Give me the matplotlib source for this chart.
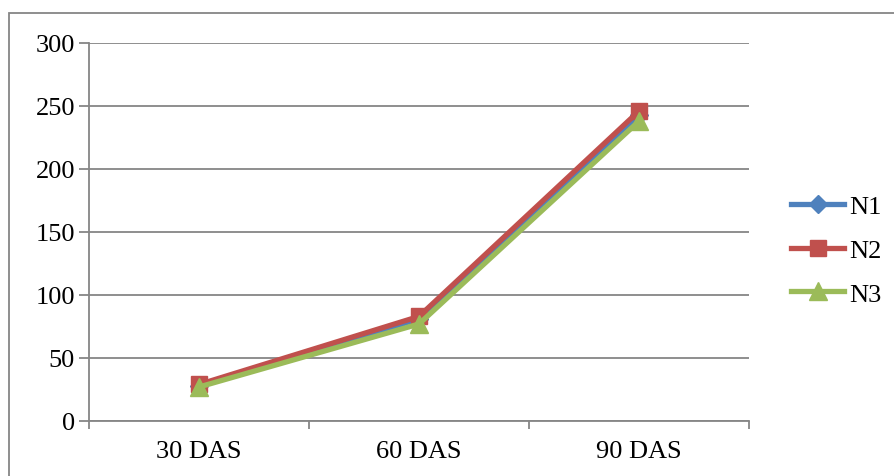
import matplotlib
matplotlib.use("Agg")
import matplotlib.pyplot as plt
from matplotlib.patches import Rectangle

categories = ["30 DAS", "60 DAS", "90 DAS"]
series_names = ["N1", "N2", "N3"]
n1 = [28, 81, 243]
n2 = [29, 83, 246]
n3 = [27, 77, 238]
y_ticks = [0, 50, 100, 150, 200, 250, 300]

colors = ["#4F81BD", "#C0504D", "#9BBB59"]
markers = ["D", "s", "^"]
msizes = [9, 12, 13]

plt.rcParams["font.family"] = ["Liberation Serif", "DejaVu Serif"]

fig = plt.figure(figsize=(8.95, 4.77), dpi=100)
W, H = 895, 477
# outer chart border
fig.patches.append(Rectangle((9 / W, -0.1), 1.0, (477 - 14) / H + 0.1,
                             transform=fig.transFigure, fill=False,
                             edgecolor="#868686", linewidth=1.3))

ax = fig.add_axes([89 / W, (477 - 422) / H, (749 - 89) / W, (422 - 44) / H])
x = list(range(len(categories)))
for vals, name, c, m, ms in zip([n1, n2, n3], series_names, colors, markers, msizes):
    ax.plot(x, vals, color=c, marker=m, markersize=ms, linewidth=3.8,
            label=name, solid_joinstyle="round", zorder=3)

ax.set_xlim(-0.5, 2.5)
ax.set_ylim(0, 300)
ax.set_yticks(y_ticks)
ax.set_xticks(x)
ax.set_xticklabels(categories)
ax.set_xticks([-0.5, 0.5, 1.5, 2.5], minor=True)
ax.tick_params(axis="x", which="major", length=0, pad=14, labelsize=19)
ax.tick_params(axis="x", which="minor", length=6, width=1.3, color="#868686", direction="out")
ax.tick_params(axis="y", length=7, width=1.3, color="#868686", labelsize=19, pad=3)
ax.grid(axis="y", color="#868686", linewidth=1.3)
ax.set_axisbelow(True)
for s in ["top", "right"]:
    ax.spines[s].set_visible(False)
for s in ["left", "bottom"]:
    ax.spines[s].set_color("#868686")
    ax.spines[s].set_linewidth(1.3)

leg = ax.legend(loc="center left", bbox_to_anchor=(1.044, 0.452), frameon=False,
                fontsize=19, handlelength=2.0, handletextpad=0.2, labelspacing=0.77,
                borderpad=0)

fig.savefig("out.png", dpi=100)
